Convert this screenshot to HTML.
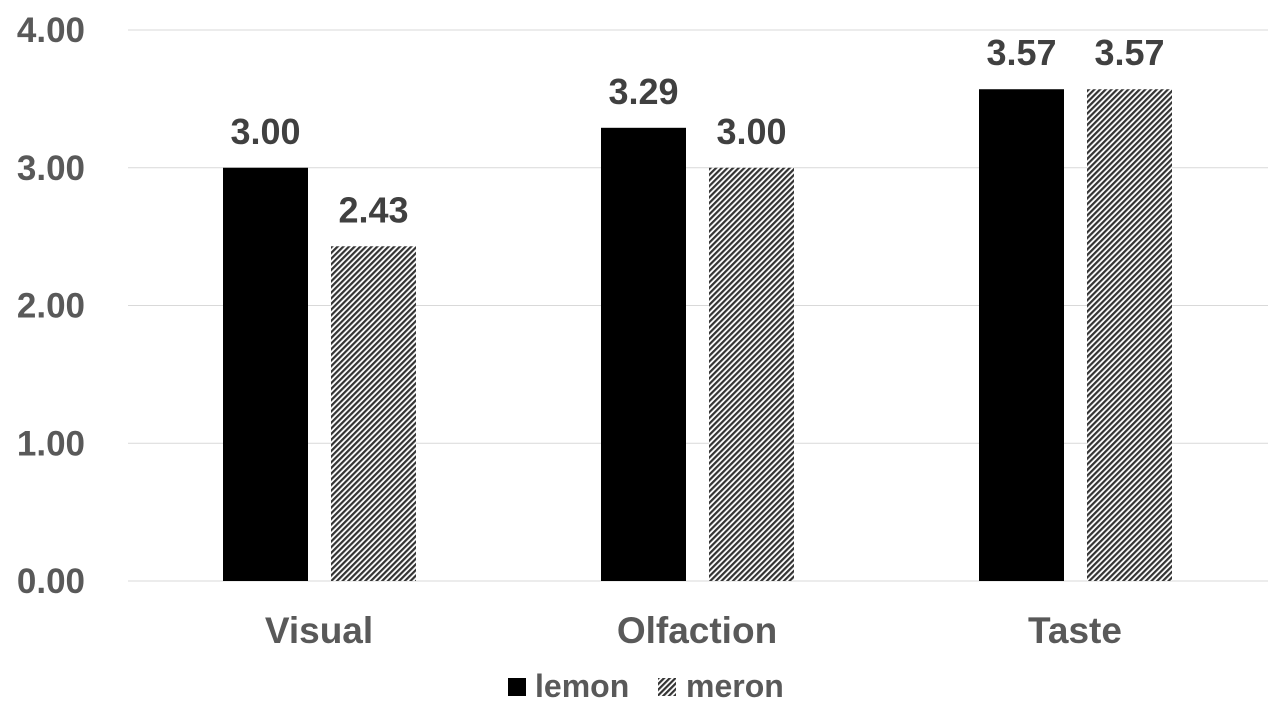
<!DOCTYPE html>
<html><head><meta charset="utf-8"><style>
body{margin:0;background:#fff;}
svg{display:block;font-family:"Liberation Sans",sans-serif;font-weight:bold;}
</style></head><body>
<svg id="chart" width="1280" height="720" viewBox="0 0 1280 720">
<defs><pattern id="hatch" patternUnits="userSpaceOnUse" width="4" height="4" patternTransform="rotate(45)">
<rect width="4" height="4" fill="#fff"/><rect width="2.2" height="4" fill="#333"/></pattern></defs>
<g id="grid"></g><g id="bars"></g><g id="labels"></g>
<g>
<rect x="508" y="678" width="18" height="18" fill="#000"/>
<text x="535" y="697" font-size="32" fill="#595959">lemon</text>
<rect x="658" y="678" width="18" height="18" fill="url(#hatch)"/>
<text x="686" y="697" font-size="32" fill="#595959">meron</text>
</g>
</svg>
<script>
const categories=["Visual","Olfaction","Taste"];
const lemon=[3.00,3.29,3.57];
const meron=[2.43,3.00,3.57];
const ticks=[0,1,2,3,4];
const NS="http://www.w3.org/2000/svg";
const x0=130,x1=1264,gx0=128,gx1=1268,yBase=581,yTop=30,yMax=4;
const y=v=>yBase-(v/yMax)*(yBase-yTop);
const bw=(x1-x0)/categories.length;
function mk(t,a,p){const e=document.createElementNS(NS,t);for(const k in a)e.setAttribute(k,a[k]);p.appendChild(e);return e;}
const grid=document.getElementById('grid'),bars=document.getElementById('bars'),labels=document.getElementById('labels');
ticks.forEach(t=>{
 const l=mk('line',{x1:gx0,x2:gx1,y1:y(t),y2:y(t),stroke:'#d9d9d9','stroke-width':1},grid);
 
 
 const tx=mk('text',{x:85,y:y(t)+12,'text-anchor':'end','font-size':35,fill:'#595959'},grid);
 tx.textContent=t.toFixed(2);
 
 
});
categories.forEach((c,i)=>{
 const cx=x0+bw*(i+0.5);
 [[lemon[i],'#000',cx-96,'lemon'],[meron[i],'url(#hatch)',cx+12,'meron']].forEach(([v,f,bx,s])=>{
  const r=mk('rect',{x:bx,y:y(v),width:85,height:yBase-y(v),fill:f},bars);
  
  
  const t=mk('text',{x:bx+42.5,y:y(v)-24,'text-anchor':'middle','font-size':36,fill:'#404040'},labels);
  t.textContent=v.toFixed(2);
  
  
 });
 const t=mk('text',{x:cx,y:643,'text-anchor':'middle','font-size':37,fill:'#595959'},labels);
 t.textContent=c;
 
 
});
</script>
</body></html>
